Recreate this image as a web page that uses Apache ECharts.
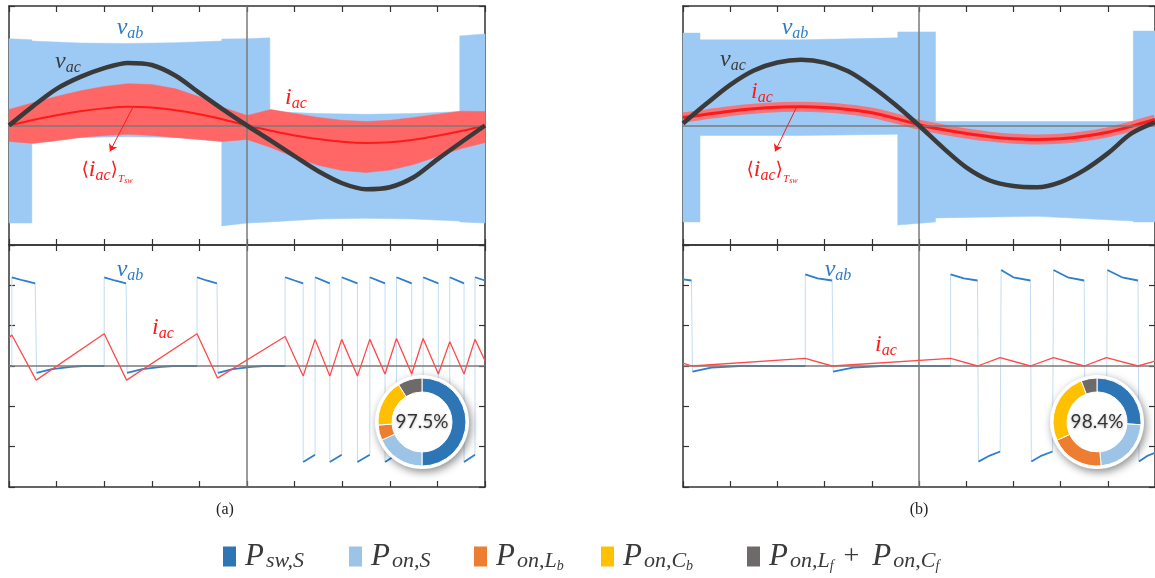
<!DOCTYPE html>
<html>
<head>
<meta charset="utf-8">
<title>v_ab, v_ac and i_ac waveforms with loss breakdown</title>
<script src="https://cdn.jsdelivr.net/npm/echarts@6/dist/echarts.min.js"></script>
<style>
    html, body { margin: 0; padding: 0; background: #fff; }
    #main { width: 1155px; height: 578px; }
</style>
</head>
<body>
<div id="main"></div>
<script>
// time in divisions (0..10), amplitude in divisions (-3..3)
const xGrid = [0, 0.5, 1, 1.5, 2, 2.5, 3, 3.5, 4, 4.5, 5, 5.5, 6, 6.5, 7, 7.5, 8, 8.5, 9, 9.5, 10];

// ---- (a) upper: line-period view
const vacA  = [0, 0.48, 0.92, 1.22, 1.44, 1.57, 1.52, 1.25, 0.82, 0.4, 0, -0.38, -0.77, -1.15, -1.45, -1.6, -1.55, -1.3, -0.85, -0.42, 0];
const iAvgA = [0, 0.14, 0.26, 0.36, 0.43, 0.47, 0.45, 0.38, 0.28, 0.15, 0, -0.13, -0.25, -0.34, -0.41, -0.44, -0.42, -0.36, -0.26, -0.14, 0];
const iTopA = [0.4, 0.57, 0.73, 0.87, 0.98, 1.05, 1.03, 0.92, 0.72, 0.45, 0.25, 0.4, 0.3, 0.2, 0.13, 0.1, 0.13, 0.2, 0.28, 0.36, 0.35];
const iBotA = [-0.4, -0.45, -0.38, -0.3, -0.25, -0.22, -0.25, -0.3, -0.35, -0.4, -0.35, -0.55, -0.8, -1.0, -1.13, -1.18, -1.12, -0.98, -0.78, -0.58, -0.43];
// [t, low edge, high edge] of the switched v_ab envelope
const vabBandA = [
    [0, -2.45, 2.18], [0.48, -2.45, 2.15], [0.48, -0.4, 2.12], [1.5, -0.3, 2.07], [2.5, -0.28, 2.06],
    [3.5, -0.3, 2.08], [4.47, -0.4, 2.12], [4.47, -2.52, 2.17], [5, -2.45, 2.18], [5.48, -2.42, 2.2],
    [5.48, -2.42, 0.35], [6.5, -2.35, 0.3], [7.5, -2.33, 0.28], [8.5, -2.35, 0.3], [9.47, -2.4, 0.35],
    [9.47, -2.42, 2.25], [10, -2.45, 2.3]
];

// ---- (b) upper
const vacB  = [0.05, 0.55, 1.02, 1.38, 1.58, 1.65, 1.58, 1.36, 0.98, 0.52, 0, -0.55, -1.05, -1.38, -1.52, -1.55, -1.42, -1.12, -0.7, -0.2, 0.08];
const iAvgB = [0.2, 0.28, 0.36, 0.42, 0.46, 0.47, 0.45, 0.4, 0.32, 0.18, 0.02, -0.1, -0.2, -0.28, -0.33, -0.35, -0.33, -0.27, -0.17, -0.02, 0.15];
const vabBandB = [
    [0, -2.42, 2.32], [0.36, -2.42, 2.32], [0.36, -0.25, 2.15], [2.5, -0.25, 2.15], [4.55, -0.22, 2.2],
    [4.55, -2.5, 2.35], [5.35, -2.42, 2.35], [5.35, -2.32, 0.1], [7.5, -2.28, 0.1], [9.54, -2.4, 0.1],
    [9.54, -2.42, 2.37], [10, -2.42, 2.37]
];

// ---- lower: switching-period zoom. v_ab pieces (flat parts), i_ac triangle
const vabSegA = [
    [[0, 0], [0.06, 0]],
    [[0.06, 2.2], [0.3, 2.12], [0.55, 2.05]],
    [[0.58, -0.17], [0.9, -0.08], [1.3, -0.02], [1.55, 0], [2.0, 0]],
    [[2.0, 2.2], [2.22, 2.12], [2.46, 2.05]],
    [[2.48, -0.17], [2.8, -0.08], [3.2, -0.02], [3.45, 0], [3.95, 0]],
    [[3.95, 2.2], [4.15, 2.12], [4.37, 2.05]],
    [[4.39, -0.17], [4.7, -0.08], [5.1, -0.02], [5.35, 0], [5.8, 0]],
    [[5.8, 2.2], [6.0, 2.12], [6.18, 2.05]],
    [[6.18, -2.38], [6.43, -2.2]],
    [[6.43, 2.2], [6.74, 2.05]],
    [[6.74, -2.38], [6.99, -2.2]],
    [[6.99, 2.2], [7.32, 2.05]],
    [[7.32, -2.38], [7.58, -2.2]],
    [[7.58, 2.2], [7.9, 2.05]],
    [[7.9, -2.38], [8.14, -2.2]],
    [[8.14, 2.2], [8.46, 2.05]],
    [[8.46, -2.38], [8.7, -2.2]],
    [[8.7, 2.2], [9.02, 2.05]],
    [[9.02, -2.38], [9.26, -2.2]],
    [[9.26, 2.2], [9.56, 2.05]],
    [[9.56, -2.38], [9.79, -2.2]],
    [[9.79, 2.2], [10, 2.12]]
];
const iacA = [
    [0, 0.7], [0.06, 0.77], [0.57, -0.35], [2.0, 0.8], [2.47, -0.35], [3.95, 0.8], [4.38, -0.3], [5.8, 0.73],
    [6.18, -0.25], [6.43, 0.66], [6.74, -0.25], [6.99, 0.66], [7.32, -0.25], [7.58, 0.66], [7.9, -0.2],
    [8.14, 0.68], [8.46, -0.2], [8.7, 0.68], [9.02, -0.2], [9.26, 0.6], [9.56, -0.2], [9.79, 0.66], [10, 0.13]
];
const vabSegB = [
    [[0, 2.15], [0.18, 2.12]],
    [[0.2, -0.14], [0.6, -0.04], [1.2, 0], [2.59, 0]],
    [[2.59, 2.27], [2.85, 2.17], [3.16, 2.12]],
    [[3.18, -0.14], [3.6, -0.04], [4.2, 0], [5.67, 0]],
    [[5.67, 2.27], [5.95, 2.17], [6.24, 2.12]],
    [[6.26, -2.37], [6.5, -2.22], [6.72, -2.12]],
    [[6.74, 2.38], [7.0, 2.2], [7.36, 2.12]],
    [[7.38, -2.37], [7.6, -2.22], [7.83, -2.12]],
    [[7.85, 2.38], [8.15, 2.2], [8.5, 2.12]],
    [[8.52, -2.37], [8.75, -2.22], [8.97, -2.12]],
    [[8.99, 2.38], [9.3, 2.2], [9.64, 2.12]],
    [[9.66, -2.37], [9.85, -2.22], [10, -2.15]]
];
const iacB = [
    [0, 0.07], [0.19, 0], [2.59, 0.19], [3.16, 0], [5.67, 0.19], [6.24, 0], [6.72, 0.21], [7.36, 0],
    [7.85, 0.21], [8.5, 0], [8.97, 0.21], [9.64, 0], [10, 0.12]
];

// annotation arrows to the averaged current
const arrowA = [[2.6, 0.45], [2.12, -0.65]];
const arrowB = [[2.41, 0.47], [1.95, -0.65]];

// loss breakdown (share of total loss, %)
const lossNames = ['Psw,S', 'Pon,S', 'Pon,Lb', 'Pon,Cb', 'Pon,Lf+Pon,Cf'];
const lossA = [50, 18.3, 5.6, 17.2, 8.9];
const lossB = [26, 22.5, 19.7, 26, 5.8];
const lossColors = ['#2e75b6', '#9dc3e6', '#ed7d31', '#ffc000', '#6e6a6a'];
const efficiency = ['97.5%', '98.4%'];

const C_BLUE_BAND = '#9ccaf4';
const C_RED_BAND = '#ff6767';
const C_RED = '#ff1a1a';
const C_BLACK = '#3a3a3a';
const C_VAB = '#2f7fcc';
const C_VAB_THIN = '#c3dcf2';
const SERIF = '"Liberation Serif", "DejaVu Serif", serif';

const grids = [
    { left: 9, top: 6, width: 476, height: 239 },
    { left: 9, top: 245, width: 476, height: 242 },
    { left: 683, top: 6, width: 478, height: 239 },
    { left: 683, top: 245, width: 478, height: 242 }
];

const xAxes = [];
const yAxes = [];
grids.forEach((g, i) => {
    ['bottom', 'top'].forEach(p => xAxes.push({
        type: 'value', gridIndex: i, position: p, min: 0, max: 10, interval: 1,
        axisLine: { show: true, onZero: false, lineStyle: { color: '#333', width: 1.5 } },
        axisTick: { show: true, inside: true, length: 6, lineStyle: { color: '#333', width: 1.2 } },
        axisLabel: { show: false },
        splitLine: { show: false }
    }));
    ['left', 'right'].forEach(p => yAxes.push({
        type: 'value', gridIndex: i, position: p, min: -3, max: 3, interval: 1,
        axisLine: { show: true, onZero: false, lineStyle: { color: '#333', width: 1.5 } },
        axisTick: { show: true, inside: true, length: 6, lineStyle: { color: '#333', width: 1.2 } },
        axisLabel: { show: false },
        splitLine: { show: false }
    }));
});

const onAxes = gi => ({ xAxisIndex: 2 * gi, yAxisIndex: 2 * gi });
const zip = ys => xGrid.map((x, i) => [x, ys[i]]);

// filled envelope between low and high edges, one polygon through the axis scales
function band(points, gi, color) {
    return Object.assign({
        type: 'custom', data: points, encode: { x: 0, y: [1, 2] }, silent: true, z: 1,
        renderItem(params, api) {
            if (params.dataIndex !== 0) return null;
            const n = params.dataInsideLength;
            const top = [], bot = [];
            for (let j = 0; j < n; j++) {
                top.push(api.coord([api.value(0, j), api.value(2, j)]));
                bot.push(api.coord([api.value(0, j), api.value(1, j)]));
            }
            return {
                type: 'polygon',
                shape: { points: top.concat(bot.reverse()) },
                style: { fill: color, stroke: color, lineWidth: 0.5 }
            };
        }
    }, onAxes(gi));
}

function line(data, gi, color, width, extra) {
    return Object.assign({
        type: 'line', data: data, symbol: 'none', silent: true, z: 3,
        lineStyle: { color: color, width: width }
    }, onAxes(gi), extra || {});
}

// gray zero line and mid vertical line
function guides(gi) {
    return Object.assign({
        type: 'line', data: [], z: 2,
        markLine: {
            silent: true, symbol: 'none', animation: false,
            label: { show: false },
            lineStyle: { color: '#7a7a7a', width: 1.5, type: 'solid' },
            data: [{ xAxis: 5 }, { yAxis: 0 }]
        }
    }, onAxes(gi));
}

function arrow(pts) {
    return {
        silent: true, symbol: ['none', 'arrow'], symbolSize: 7, animation: false,
        label: { show: false },
        lineStyle: { color: C_RED, width: 1, type: 'solid' },
        data: [[{ coord: pts[0] }, { coord: pts[1] }]]
    };
}

function vabLower(segs, gi) {
    const dark = [];
    segs.forEach((s, k) => {
        if (k) dark.push([s[0][0], '-']);
        s.forEach(p => dark.push(p));
    });
    return [
        line(segs.flat(), gi, C_VAB_THIN, 1, { z: 3 }),
        line(dark, gi, C_VAB, 1.8, { z: 4 })
    ];
}

function donut(values, center, eff) {
    return [
        {
            type: 'pie', center: center, radius: [0, 47], silent: true, z: 9,
            label: { show: true, position: 'center', formatter: eff, fontFamily: 'Lato, "Open Sans", sans-serif', fontSize: 19, color: '#333', textShadowColor: 'rgba(0,0,0,0.3)', textShadowBlur: 3, textShadowOffsetY: 1 },
            labelLine: { show: false },
            itemStyle: { color: '#fff', shadowColor: 'rgba(0,0,0,0.45)', shadowBlur: 8, shadowOffsetX: 2, shadowOffsetY: 3 },
            emphasis: { disabled: true },
            data: [{ value: 1, name: 'bg' }]
        },
        {
            type: 'pie', center: center, radius: [30, 44], startAngle: 90, silent: true, z: 10,
            label: { show: false }, labelLine: { show: false },
            itemStyle: { borderColor: '#fff', borderWidth: 1 },
            emphasis: { disabled: true },
            data: lossNames.map((n, i) => ({ name: n, value: values[i], itemStyle: { color: lossColors[i] } }))
        }
    ];
}

const series = [
    // (a) upper
    band(vabBandA, 0, C_BLUE_BAND),
    band(xGrid.map((x, i) => [x, iBotA[i], iTopA[i]]), 0, C_RED_BAND),
    guides(0),
    line(zip(iAvgA), 0, C_RED, 2, { smooth: 0.3, markLine: arrow(arrowA) }),
    line(zip(vacA), 0, C_BLACK, 4.5, { smooth: 0.3, z: 5 }),
    // (a) lower
    guides(1),
    ...vabLower(vabSegA, 1),
    line(iacA, 1, '#ff4a4a', 1.3, { z: 5 }),
    // (b) upper
    band(vabBandB, 2, C_BLUE_BAND),
    guides(2),
    line(zip(iAvgB), 2, 'rgba(255,105,105,0.85)', 10, { smooth: 0.3 }),
    line(zip(iAvgB), 2, C_RED, 3, { smooth: 0.3, z: 4, markLine: arrow(arrowB) }),
    line(zip(vacB), 2, C_BLACK, 4.5, { smooth: 0.3, z: 5 }),
    // (b) lower
    guides(3),
    ...vabLower(vabSegB, 3),
    line(iacB, 3, '#ff4a4a', 1.3, { z: 5 }),
    // loss donuts
    ...donut(lossA, [422, 422], efficiency[0]),
    ...donut(lossB, [1097, 422], efficiency[1])
];

// rich text styles for italic symbols with subscripts
function richFor(color) {
    const it = (size, drop) => ({ fontFamily: SERIF, fontStyle: 'italic', fontSize: size, fill: color, padding: [drop, 0, 0, 0] });
    return {
        m: it(24, 0),
        s: it(16, 12),
        t: it(11, 18),
        u: it(8, 22),
        n: { fontFamily: SERIF, fontSize: 19, fill: color }
    };
}

function symbolText(x, y, text, color) {
    return {
        type: 'text', x: x, y: y, z: 20, silent: true,
        style: { text: text, rich: richFor(color), fill: color, align: 'center', verticalAlign: 'middle' }
    };
}

const labelBlue = '#2e7bc4';
const graphics = [
    symbolText(130, 28, '{m|v}{s|ab}', labelBlue),
    symbolText(68, 62, '{m|v}{s|ac}', C_BLACK),
    symbolText(296, 98, '{m|i}{s|ac}', C_RED),
    symbolText(107, 170, '{n|⟨}{m|i}{s|ac}{n|⟩}{t|T}{u|sw}', C_RED),
    symbolText(130, 270, '{m|v}{s|ab}', labelBlue),
    symbolText(163, 328, '{m|i}{s|ac}', C_RED),
    symbolText(795, 28, '{m|v}{s|ab}', labelBlue),
    symbolText(733, 60, '{m|v}{s|ac}', C_BLACK),
    symbolText(762, 92, '{m|i}{s|ac}', C_RED),
    symbolText(772, 170, '{n|⟨}{m|i}{s|ac}{n|⟩}{t|T}{u|sw}', C_RED),
    symbolText(838, 270, '{m|v}{s|ab}', labelBlue),
    symbolText(886, 345, '{m|i}{s|ac}', C_RED),
    { type: 'text', x: 225, y: 510, style: { text: '(a)', font: '16px ' + SERIF, fill: '#222', align: 'center', verticalAlign: 'middle' } },
    { type: 'text', x: 919, y: 510, style: { text: '(b)', font: '16px ' + SERIF, fill: '#222', align: 'center', verticalAlign: 'middle' } }
];

const legendText = {
    'Psw,S': '{p|P}{s|sw,S}',
    'Pon,S': '{p|P}{s|on,S}',
    'Pon,Lb': '{p|P}{s|on,L}{ss|b}',
    'Pon,Cb': '{p|P}{s|on,C}{ss|b}',
    'Pon,Lf+Pon,Cf': '{p|P}{s|on,L}{ss|f}{q|+}{p|P}{s|on,C}{ss|f}'
};
const legendLeft = [221, 347, 472, 599, 745];
const TXT = '#3a3a3a';

const legends = lossNames.map((name, i) => ({
    data: [name],
    left: legendLeft[i], top: 541, padding: 0,
    icon: 'rect', itemWidth: 15, itemHeight: 22,
    selectedMode: false,
    formatter: n => legendText[n],
    textStyle: {
        color: TXT,
        rich: {
            p: { fontFamily: SERIF, fontStyle: 'italic', fontSize: 31, color: TXT, padding: [0, 2, 0, 3] },
            s: { fontFamily: SERIF, fontStyle: 'italic', fontSize: 22, color: TXT, padding: [10, 0, 0, 0] },
            ss: { fontFamily: SERIF, fontStyle: 'italic', fontSize: 14, color: TXT, padding: [19, 0, 0, 0] },
            q: { fontFamily: SERIF, fontSize: 28, color: TXT, padding: [0, 10, 0, 10] }
        }
    }
}));

const option = {
    animation: false,
    backgroundColor: '#fff',
    grid: grids,
    xAxis: xAxes,
    yAxis: yAxes,
    legend: legends,
    graphic: graphics,
    series: series
};

const myChart = echarts.init(document.getElementById('main'));
myChart.setOption(option);
</script>
</body>
</html>
